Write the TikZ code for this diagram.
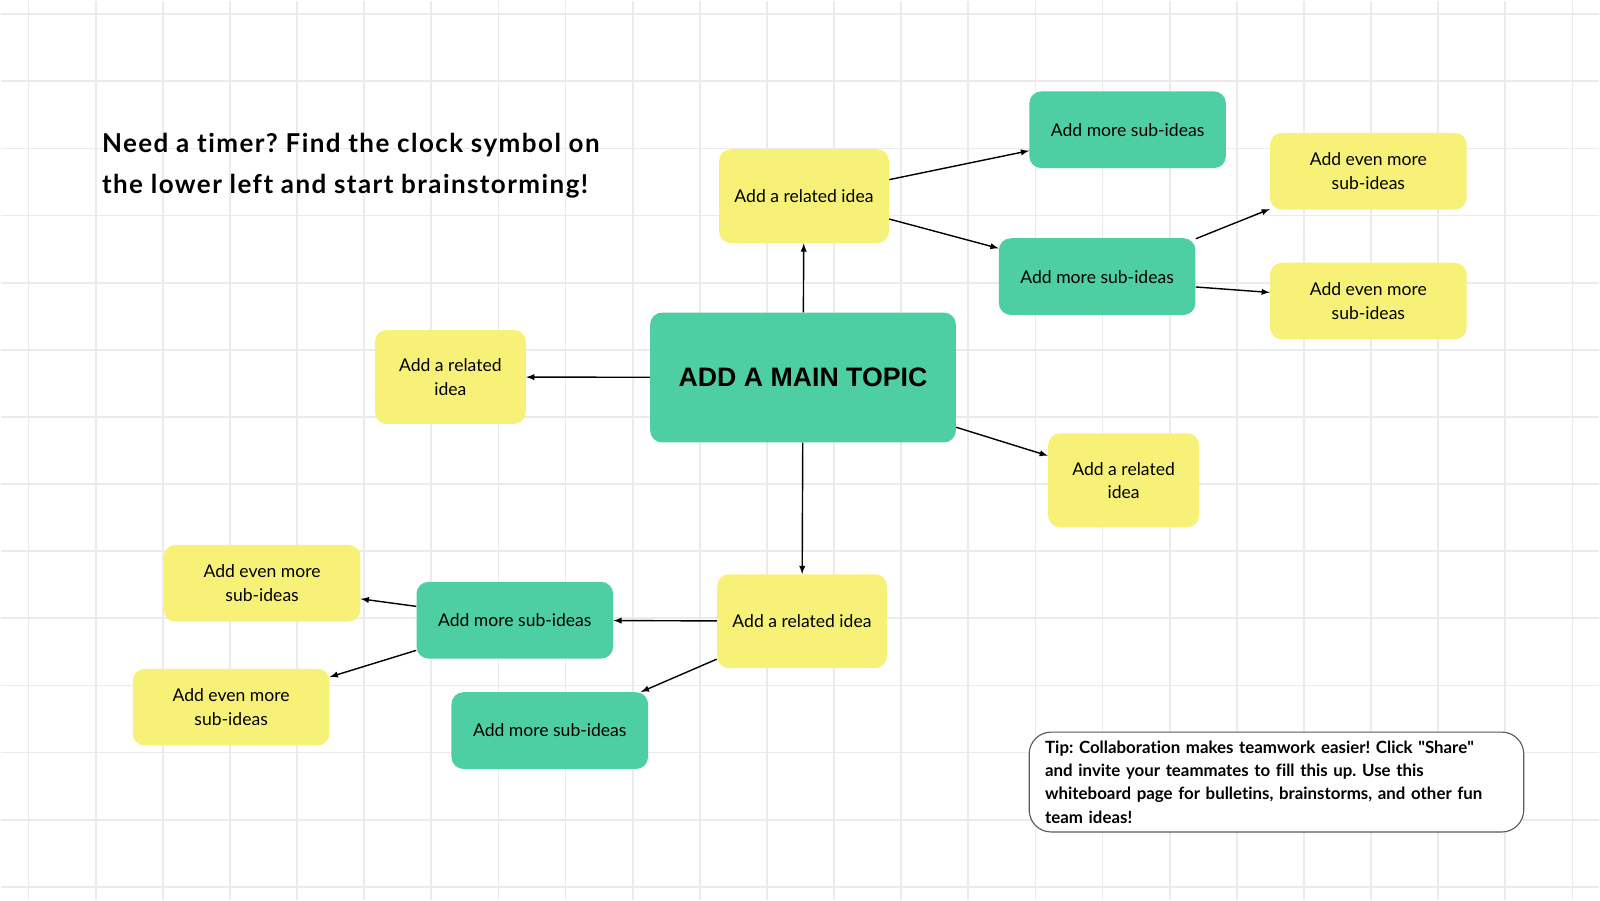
\documentclass[tikz,border=0pt]{standalone}
\usepackage{fontspec}
\setmainfont{Lato}[Ligatures=NoCommon]
\newfontfamily\topicfont{Liberation Sans}
\usetikzlibrary{arrows,calc}
\frenchspacing

\definecolor{mintgreen}{HTML}{4DCFA3}
\definecolor{stickyyellow}{HTML}{F8F178}
\definecolor{gridgray}{HTML}{EBEBEB}
\definecolor{tipgray}{HTML}{5A5A5A}

\tikzset{
  box/.style={rounded corners=0.3cm, inner sep=0pt, align=center,
    font=\fontsize{12.5}{16.7}\selectfont},
  idea/.style={box, fill=stickyyellow, minimum width=4.25cm, minimum height=2.35cm},
  ideanarrow/.style={idea, minimum width=3.78cm},
  sub/.style={box, fill=mintgreen, minimum width=4.92cm, minimum height=1.92cm},
  more/.style={box, fill=stickyyellow, minimum width=4.92cm, minimum height=1.92cm},
  topicbox/.style={box, fill=mintgreen, minimum width=7.65cm, minimum height=3.25cm,
    font=\topicfont\bfseries\fontsize{19}{23}\selectfont},
  link/.style={-latex, line width=1pt},
  gridline/.style={gridgray, line width=1.3pt}
}

\begin{document}
\begin{tikzpicture}[x=0.025cm, y=-0.025cm]

% page and grid
\fill[white] (0,0) rectangle (1600,900);
\foreach \gx in {0,...,23}
{%
  \draw[gridline] (27.7+67.2*\gx,0) -- (27.7+67.2*\gx,900);
}
\foreach \gy in {0,...,13}
{%
  \draw[gridline] (0,13.3+67.2*\gy) -- (1600,13.3+67.2*\gy);
}

\node[anchor=north west, inner sep=0pt, align=left,
  font=\bfseries\fontsize{18.5}{29}\selectfont\addfontfeature{LetterSpace=5.5}] (timer) at (101,132)
  {Need a timer? Find the clock symbol on\\the lower left and start brainstorming!};

% main topic
\node[topicbox] (topic) at (803,377) {ADD A MAIN TOPIC};

% related ideas
\node[idea] (ideaUp) at (804,195.5) {Add a related idea};
\node[ideanarrow] (ideaLeft) at (450,376.5) {Add a related\\idea};
\node[ideanarrow] (ideaRight) at (1124,480) {Add a related\\idea};
\node[idea] (ideaDown) at (802,621) {Add a related idea};

% sub-ideas, upper branch
\node[sub] (subUpA) at (1128,129) {Add more sub-ideas};
\node[sub] (subUpB) at (1097.5,276) {Add more sub-ideas};
\node[more] (moreUpA) at (1369,170.5) {Add even more\\sub-ideas};
\node[more] (moreUpB) at (1369,300.5) {Add even more\\sub-ideas};

% sub-ideas, lower branch
\node[sub] (subDownA) at (514.5,620) {Add more sub-ideas};
\node[sub] (subDownB) at (549.5,730.5) {Add more sub-ideas};
\node[more] (moreDownA) at (261.5,583) {Add even more\\sub-ideas};
\node[more] (moreDownB) at (230.5,707) {Add even more\\sub-ideas};

% tip
\node[draw=tipgray, line width=0.8pt, fill=white, rounded corners=0.55cm,
  minimum width=12.375cm, minimum height=2.5cm, text width=11.575cm,
  inner sep=0pt, align=left, font=\bfseries\fontsize{12}{16.7}\selectfont]
  (tip) at (1277,782)
  {Tip: Collaboration makes teamwork easier! Click \textquotedbl Share\textquotedbl\\
   and invite your teammates to fill this up. Use this\\
   whiteboard page for bulletins, brainstorms, and other fun\\
   team ideas!};

% connectors
\draw[link] (topic) -- (ideaUp);
\draw[link] (ideaUp.11) -- (subUpA.192);
\draw[link] (ideaUp.-15) -- (subUpB.164);
\draw[link] (subUpB.21) -- (moreUpA.201);
\draw[link] (subUpB.-6) -- (moreUpB.175);
\draw[link] (topic) -- (ideaLeft);
\draw[link] (topic.-18) -- (ideaRight.162);
\draw[link] (topic) -- (ideaDown);
\draw[link] (ideaDown) -- (subDownA);
\draw[link] (ideaDown.204) -- (subDownB.23);
\draw[link] (subDownA.172) -- (moreDownA.-9);
\draw[link] (subDownA.197) -- (moreDownB.17);

\end{tikzpicture}
\end{document}
